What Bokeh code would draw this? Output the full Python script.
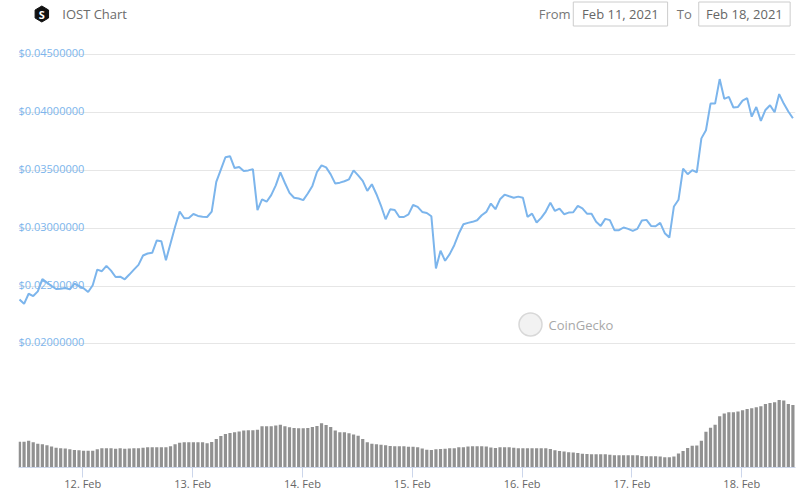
import math
import pandas as pd
from bokeh.plotting import figure
from bokeh.layouts import column
from bokeh.models import Range1d, FixedTicker, DaysTicker, DatetimeTickFormatter, ColumnDataSource
from bokeh.core.properties import value
from bokeh.embed import file_html
from bokeh.resources import INLINE

FONT = value("Open Sans")

# ---------------- data ----------------
price = [
    0.02384, 0.02346, 0.02433, 0.02413, 0.02454, 0.02560, 0.02529, 0.02500, 0.02474, 0.02477,
    0.02483, 0.02471, 0.02520, 0.02500, 0.02480, 0.02448, 0.02506, 0.02642, 0.02628, 0.02674,
    0.02633, 0.02578, 0.02581, 0.02558, 0.02599, 0.02642, 0.02683, 0.02764, 0.02781, 0.02787,
    0.02894, 0.02888, 0.02723, 0.02868, 0.03013, 0.03144, 0.03086, 0.03088, 0.03123, 0.03106,
    0.03100, 0.03097, 0.03144,
    0.03400, 0.03506, 0.03614, 0.03623, 0.03520, 0.03529, 0.03494, 0.03500, 0.03511, 0.03157,
    0.03249, 0.03229, 0.03286, 0.03371, 0.03483, 0.03391, 0.03306, 0.03263, 0.03257, 0.03243,
    0.03300, 0.03366, 0.03486, 0.03543, 0.03526, 0.03466, 0.03386, 0.03394, 0.03406, 0.03423,
    0.03500, 0.03457, 0.03409, 0.03323, 0.03380, 0.03294, 0.03194, 0.03077, 0.03163, 0.03157,
    0.03097, 0.03097, 0.03120,
    0.03201, 0.03184, 0.03141, 0.03132, 0.03103, 0.02652, 0.02805, 0.02718, 0.02776, 0.02853,
    0.02954, 0.03034, 0.03046, 0.03055, 0.03069, 0.03112, 0.03141, 0.03213, 0.03164, 0.03250,
    0.03290, 0.03276, 0.03264, 0.03273, 0.03264, 0.03098, 0.03126, 0.03049, 0.03089, 0.03144,
    0.03221, 0.03149, 0.03170, 0.03121, 0.03135, 0.03138, 0.03193, 0.03172, 0.03126, 0.03124,
    0.03055, 0.03020,
    0.03081, 0.03070, 0.02983, 0.02983, 0.03006, 0.02994, 0.02977, 0.02994, 0.03067, 0.03072,
    0.03020, 0.03017, 0.03046, 0.02957, 0.02919, 0.03188, 0.03246, 0.03516, 0.03467, 0.03502,
    0.03484, 0.03777, 0.03847, 0.04078, 0.04078, 0.04290, 0.04119, 0.04136, 0.04044, 0.04049,
    0.04104, 0.04125, 0.03965, 0.04049, 0.03928, 0.04023, 0.04064, 0.04003, 0.04160, 0.04078,
    0.04009, 0.03951,
]

# 24h volume, USD millions
volume = [
    386, 386, 401, 380, 356, 348, 332, 315, 297, 288,
    284, 275, 264, 257, 252, 251, 251, 273, 290, 290,
    290, 282, 288, 281, 284, 290, 290, 296, 303, 305,
    305, 305, 305, 318, 350, 371, 380, 380, 380, 380,
    377, 363, 383, 426, 473, 503, 518, 528, 539, 554,
    560, 560, 566, 620, 620, 620, 630, 642, 620, 603,
    593, 590, 590, 594, 608, 624, 663, 639, 606, 555,
    530, 527, 513, 494, 477, 429, 377, 356, 350, 342,
    332, 321, 320,
    320, 320, 311, 311, 302, 285, 266, 261, 275, 276,
    282, 290, 290, 303, 305, 315, 320, 320, 320, 314,
    300, 293, 305, 305, 305, 296,
    290, 290, 290, 290, 290, 290, 290,
    278, 257, 249, 239, 230, 225, 216, 207, 201, 200,
    200, 200, 198, 192,
    185, 185, 185, 185, 185, 185,
    174, 170, 170, 170, 164, 155, 155, 165,
    209, 249, 293, 327, 330, 402, 536, 596, 642, 770,
    810, 828, 830, 840, 860, 879, 887, 902, 917, 954,
    969, 980, 1014, 1005, 951, 936,
]

first_time = "2021-02-11 10:10"
y_ticks = [0.020, 0.025, 0.030, 0.035, 0.040, 0.045]
y_tick_labels = ["$0.02000000", "$0.02500000", "$0.03000000",
                 "$0.03500000", "$0.04000000", "$0.04500000"]
title_text = "IOST Chart"
from_label = "From"
to_label = "To"
from_date = "Feb 11, 2021"
to_date = "Feb 18, 2021"
watermark = "CoinGecko"

n = min(len(price), len(volume))
price = price[:n]
volume = volume[:n]
times = pd.date_range(first_time, periods=n, freq="h")
src = ColumnDataSource(dict(t=times, price=price, vol=volume))

# ---------------- header ----------------
W = 799
hdr = figure(width=W, height=40, x_range=Range1d(0, W), y_range=Range1d(40, 0),
             x_axis_location=None, y_axis_location=None, toolbar_location=None,
             output_backend="svg", min_border=0, outline_line_color=None)
hdr.xgrid.visible = False
hdr.ygrid.visible = False

cx, cy, r = 24.0, 13.5, 8.0
hx = [cx + r * math.cos(math.radians(a)) for a in (-90, -30, 30, 90, 150, 210)]
hy = [cy + r * math.sin(math.radians(a)) for a in (-90, -30, 30, 90, 150, 210)]
hdr.patch(hx, hy, fill_color="#111111", line_color="#111111")
hdr.text(x=[cx], y=[cy + 0.5], text=["S"], text_color="white", text_font=FONT,
         text_font_style="bold", text_font_size="11px", text_align="center",
         text_baseline="middle")
hdr.text(x=[45], y=[13.5], text=[title_text], text_color="#6b6b6b", text_font=FONT,
         text_font_size="13px", text_baseline="middle")
hdr.text(x=[535, 677], y=[13.5, 13.5], text=[from_label, to_label], text_color="#777777",
         text_font=FONT, text_font_size="13px", text_baseline="middle")
hdr.quad(left=[570.5, 699.5], right=[667.5, 793.5], top=[1.5, 1.5], bottom=[25.5, 25.5],
         fill_color="white", line_color="#cccccc", line_width=1)
hdr.text(x=[619, 746.5], y=[13.5, 13.5], text=[from_date, to_date], text_color="#666666",
         text_font=FONT, text_font_size="13px", text_align="center", text_baseline="middle")

# ---------------- main chart ----------------
x0 = pd.Timestamp("2021-02-11 09:57")
x1 = pd.Timestamp("2021-02-18 11:44")
y_start, y_end = 0.009300, 0.046237
FRAME_L, FRAME_W, FRAME_T, FRAME_H = 18, 777, 40, 427

p = figure(width=W, height=454, x_axis_type="datetime",
           x_range=Range1d(x0, x1), y_range=Range1d(y_start, y_end),
           y_axis_location=None, toolbar_location=None, output_backend="svg",
           min_border_left=18, min_border_right=4, min_border_top=0,
           min_border_bottom=27, outline_line_color=None)
p.extra_y_ranges = {"vol": Range1d(0, FRAME_H * 15)}

p.xgrid.visible = False
p.ygrid.ticker = FixedTicker(ticks=y_ticks)
p.ygrid.grid_line_color = "#e6e6e6"

p.vbar(x="t", top="vol", width=0.7 * 3600000, source=src, y_range_name="vol",
       fill_color="#919191", line_color=None)
p.line(x="t", y="price", source=src, line_color="#7cb5ec", line_width=2)

p.text(x=[x0] * len(y_ticks), y=y_ticks, text=y_tick_labels, text_color="#7cb5ec",
       text_font=FONT, text_font_size="11px", text_baseline="alphabetic", y_offset=-2)


def px_x(px):
    return x0 + (x1 - x0) * ((px - FRAME_L) / FRAME_W)


def px_y(py):
    return y_end - (py - FRAME_T) / FRAME_H * (y_end - y_start)


p.scatter(x=[px_x(530)], y=[px_y(324)], size=23, marker="circle",
          fill_color="#f2f2f2", line_color="#d8d8d8", line_width=1.5)
p.text(x=[px_x(548)], y=[px_y(324)], text=[watermark], text_color="#a8a8a8",
       text_font=FONT, text_font_size="13px", text_baseline="middle")

ax = p.xaxis[0]
ax.ticker = DaysTicker(days=list(range(1, 32)))
ax.formatter = DatetimeTickFormatter(days="%d. %b")
ax.axis_line_color = "#ccd6eb"
ax.major_tick_line_color = "#ccd6eb"
ax.major_tick_out = 10
ax.major_tick_in = 0
ax.minor_tick_line_color = None
ax.major_label_text_color = "#666666"
ax.major_label_text_font = "Open Sans"
ax.major_label_text_font_size = "11px"
ax.major_label_standoff = -2

layout = column(hdr, p)

open("out.html", "w").write(file_html(layout, INLINE))
